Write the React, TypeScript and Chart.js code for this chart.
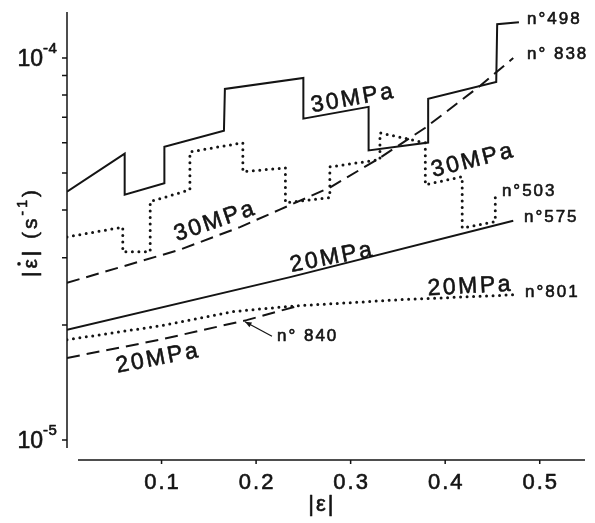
import { useEffect, useRef } from "react";
import { Chart, registerables } from "chart.js";

Chart.register(...registerables);

const FONT = '"Liberation Sans", Arial, Helvetica, sans-serif';
const INK = "#141414";

// ---- axes ----
const xMin = 0;
const xMax = 0.55;
const yMin = 0.953e-5;
const yMax = 1.32e-4;
const xTicks = [0.1, 0.2, 0.3, 0.4, 0.5];
const xTickLabels = ["0.1", "0.2", "0.3", "0.4", "0.5"];
const yMinorTicks = [2e-5, 3e-5, 4e-5, 5e-5, 6e-5, 7e-5, 8e-5, 9e-5];
const yDecadeTicks = [1e-5, 1e-4];
const yDecadeExp = ["-5", "-4"];

// ---- series ----
// n°498 (30 MPa, solid, stepped)
const s498x = [0, 0.061, 0.061, 0.103, 0.103, 0.166, 0.167, 0.25, 0.25, 0.319, 0.319, 0.382, 0.382, 0.454, 0.455, 0.478];
const s498y = [4.47e-5, 5.62e-5, 4.39e-5, 4.7e-5, 5.86e-5, 6.45e-5, 8.3e-5, 8.87e-5, 6.94e-5, 7.45e-5, 5.73e-5, 6.01e-5, 7.82e-5, 8.66e-5, 1.226e-4, 1.241e-4];
// n°838 (30 MPa, dashed)
const s838x = [0, 0.1195, 0.183, 0.225, 0.278, 0.331, 0.379, 0.437, 0.472];
const s838y = [2.58e-5, 3.15e-5, 3.61e-5, 4.01e-5, 4.58e-5, 5.48e-5, 6.57e-5, 8.46e-5, 1.0e-4];
// n°503 (30 MPa, dotted, stepped)
const s503x = [0, 0.059, 0.059, 0.088, 0.088, 0.13, 0.13, 0.186, 0.186, 0.231, 0.231, 0.278, 0.278, 0.331, 0.331, 0.379, 0.379, 0.418, 0.418, 0.453, 0.453];
const s503y = [3.4e-5, 3.61e-5, 3.11e-5, 3.11e-5, 4.21e-5, 4.52e-5, 5.68e-5, 6.0e-5, 5.04e-5, 5.16e-5, 4.18e-5, 4.31e-5, 5.19e-5, 5.42e-5, 6.37e-5, 6.0e-5, 4.66e-5, 4.89e-5, 3.59e-5, 3.73e-5, 4.39e-5];
// n°575 (20 MPa, solid)
const s575x = [0, 0.236, 0.472];
const s575y = [1.943e-5, 2.67e-5, 3.75e-5];
// n°801 (20 MPa, dotted)
const s801x = [0, 0.098, 0.176, 0.236, 0.352, 0.472];
const s801y = [1.83e-5, 1.99e-5, 2.17e-5, 2.24e-5, 2.33e-5, 2.4e-5];
// n°840 (20 MPa, dashed)
const s840x = [0, 0.098, 0.19, 0.243];
const s840y = [1.64e-5, 1.83e-5, 2.06e-5, 2.24e-5];

// ---- annotations ----
const stressTexts = ["30MPa", "30MPa", "30MPa", "20MPa", "20MPa", "20MPa"];
const stressX = [0.3014, 0.4284, 0.1555, 0.2792, 0.4252, 0.0952];
const stressY = [7.82e-5, 5.38e-5, 3.725e-5, 3.0e-5, 2.52e-5, 1.633e-5];
const stressAngle = [-10, -14, -19, -11, -3, -11];

const idTexts = ["n°498", "n° 838", "n°503", "n°575", "n°801", "n° 840"];
const idX = [0.4865, 0.4865, 0.46, 0.4833, 0.4844, 0.2221];
const idY = [1.266e-4, 1.0256e-4, 4.49e-5, 3.82e-5, 2.43e-5, 1.863e-5];

const arrowFrom = { x: 0.2168, y: 1.87e-5 };
const arrowTo = { x: 0.1883, y: 2.04e-5 };

const xTitle = "|ε|";

function pts(xs: number[], ys: number[]) {
  return xs.map((x, i) => ({ x, y: ys[i] }));
}

function spacedText(ctx: CanvasRenderingContext2D, text: string, x: number, y: number, spacing: number, align: "left" | "center" | "right") {
  const chars = Array.from(text);
  const widths = chars.map((c) => ctx.measureText(c).width);
  const total = widths.reduce((a, b) => a + b, 0) + spacing * (chars.length - 1);
  let cx = align === "left" ? x : align === "center" ? x - total / 2 : x - total;
  const prevAlign = ctx.textAlign;
  const prevLw = ctx.lineWidth;
  ctx.textAlign = "left";
  ctx.lineWidth = 0.6;
  ctx.lineJoin = "round";
  chars.forEach((c, i) => {
    ctx.fillText(c, cx, y);
    ctx.strokeText(c, cx, y);
    cx += widths[i] + spacing;
  });
  ctx.textAlign = prevAlign;
  ctx.lineWidth = prevLw;
  return total;
}

const decor = {
  id: "decor",
  afterDatasetsDraw(chart: any) {
    const { ctx, chartArea } = chart;
    const xs = chart.scales.x;
    const ys = chart.scales.y;
    ctx.save();
    ctx.strokeStyle = INK;
    ctx.fillStyle = INK;
    ctx.lineWidth = 1.5;
    ctx.lineCap = "butt";
    ctx.setLineDash([]);

    // y axis
    ctx.beginPath();
    ctx.moveTo(chartArea.left, chartArea.top);
    ctx.lineTo(chartArea.left, chartArea.bottom);
    for (const v of [...yMinorTicks, ...yDecadeTicks]) {
      const py = ys.getPixelForValue(v);
      ctx.moveTo(chartArea.left - 5, py);
      ctx.lineTo(chartArea.left, py);
    }
    ctx.stroke();

    // x axis (detached below plot)
    const axY = chartArea.bottom + 12;
    ctx.beginPath();
    ctx.moveTo(chartArea.left + 11, axY);
    ctx.lineTo(chartArea.right - 2, axY);
    for (const v of xTicks) {
      const px = xs.getPixelForValue(v);
      ctx.moveTo(px, axY);
      ctx.lineTo(px, axY + 4);
    }
    ctx.stroke();

    // x tick labels
    ctx.font = `22px ${FONT}`;
    ctx.textBaseline = "middle";
    xTicks.forEach((v, i) => {
      spacedText(ctx, xTickLabels[i], xs.getPixelForValue(v), axY + 23, 2, "center");
    });

    // y decade labels
    yDecadeTicks.forEach((v, i) => {
      const py = ys.getPixelForValue(v);
      ctx.font = `23px ${FONT}`;
      ctx.textBaseline = "middle";
      spacedText(ctx, "10", chartArea.left - 24, py + 2, 0, "right");
      ctx.font = `15px ${FONT}`;
      spacedText(ctx, yDecadeExp[i], chartArea.left - 24, py - 9, 0.5, "left");
    });

    // x title
    ctx.font = `22px ${FONT}`;
    ctx.textBaseline = "middle";
    spacedText(ctx, xTitle, xs.getPixelForValue(0.2686), axY + 45, 2, "center");

    // y title (rotated)
    ctx.save();
    ctx.translate(29, 232);
    ctx.rotate(-Math.PI / 2);
    ctx.textBaseline = "alphabetic";
    ctx.font = `21px ${FONT}`;
    const sp = 3;
    const parts: { t: string; sup?: boolean }[] = [
      { t: "|" },
      { t: "ε" },
      { t: "|" },
      { t: " (s" },
      { t: "-1", sup: true },
      { t: ")" },
    ];
    const measure = (p: { t: string; sup?: boolean }) => {
      ctx.font = p.sup ? `14px ${FONT}` : `21px ${FONT}`;
      const chars = Array.from(p.t);
      return chars.reduce((a, c) => a + ctx.measureText(c).width, 0) + sp * chars.length;
    };
    const total = parts.reduce((a, p) => a + measure(p), 0);
    let cx = -total / 2;
    const base = 8;
    parts.forEach((p) => {
      const w = measure(p);
      ctx.font = p.sup ? `14px ${FONT}` : `21px ${FONT}`;
      spacedText(ctx, p.t, cx, p.sup ? base - 10 : base, sp, "left");
      if (p.t === "ε") {
        const ew = ctx.measureText("ε").width;
        ctx.beginPath();
        ctx.arc(cx + ew / 2, base - 18, 1.8, 0, Math.PI * 2);
        ctx.fill();
      }
      cx += w;
    });
    ctx.restore();

    // stress annotations
    ctx.font = `23px ${FONT}`;
    ctx.textBaseline = "middle";
    stressTexts.forEach((t, i) => {
      ctx.save();
      ctx.translate(xs.getPixelForValue(stressX[i]), ys.getPixelForValue(stressY[i]));
      ctx.rotate((stressAngle[i] * Math.PI) / 180);
      spacedText(ctx, t, 0, 0, 2.5, "center");
      ctx.restore();
    });

    // specimen ids
    ctx.font = `17px ${FONT}`;
    ctx.textBaseline = "middle";
    idTexts.forEach((t, i) => {
      spacedText(ctx, t, xs.getPixelForValue(idX[i]), ys.getPixelForValue(idY[i]), 2, "left");
    });

    // arrow to n°840
    const ax0 = xs.getPixelForValue(arrowFrom.x);
    const ay0 = ys.getPixelForValue(arrowFrom.y);
    const ax1 = xs.getPixelForValue(arrowTo.x);
    const ay1 = ys.getPixelForValue(arrowTo.y);
    ctx.lineWidth = 1.2;
    ctx.beginPath();
    ctx.moveTo(ax0, ay0);
    ctx.lineTo(ax1, ay1);
    ctx.stroke();
    const ang = Math.atan2(ay1 - ay0, ax1 - ax0);
    const hl = 7;
    ctx.beginPath();
    ctx.moveTo(ax1, ay1);
    ctx.lineTo(ax1 - hl * Math.cos(ang - 0.4), ay1 - hl * Math.sin(ang - 0.4));
    ctx.lineTo(ax1 - hl * Math.cos(ang + 0.4), ay1 - hl * Math.sin(ang + 0.4));
    ctx.closePath();
    ctx.fill();

    ctx.restore();
  },
};

export default function App() {
  const ref = useRef<HTMLCanvasElement | null>(null);
  useEffect(() => {
    document.body.style.margin = "0";
    document.body.style.background = "#fff";
    const canvas = ref.current;
    if (!canvas) return;
    const solid = { borderColor: INK, borderWidth: 2, pointRadius: 0, fill: false, tension: 0 };
    const dashed = { ...solid, borderDash: [13, 7] };
    const dotted = { ...solid, borderWidth: 3, borderDash: [0, 6.5], borderCapStyle: "round" as const };
    const chart = new Chart(canvas, {
      type: "line",
      data: {
        datasets: [
          { label: "n°498", data: pts(s498x, s498y), ...solid },
          { label: "n°838", data: pts(s838x, s838y), ...dashed },
          { label: "n°503", data: pts(s503x, s503y), ...dotted },
          { label: "n°575", data: pts(s575x, s575y), ...solid },
          { label: "n°801", data: pts(s801x, s801y), ...dotted },
          { label: "n°840", data: pts(s840x, s840y), ...dashed },
        ] as any,
      },
      options: {
        animation: false,
        responsive: false,
        maintainAspectRatio: false,
        layout: { padding: { left: 67, top: 12, right: 8, bottom: 75 } },
        plugins: { legend: { display: false }, tooltip: { enabled: false } },
        scales: {
          x: { type: "linear", min: xMin, max: xMax, display: false },
          y: { type: "logarithmic", min: yMin, max: yMax, display: false },
        },
        elements: { point: { radius: 0 } },
      },
      plugins: [decor],
    });
    return () => chart.destroy();
  }, []);
  return (
    <div style={{ width: 595, height: 523, background: "#fff" }}>
      <canvas ref={ref} width={595} height={523} style={{ display: "block" }} />
    </div>
  );
}
